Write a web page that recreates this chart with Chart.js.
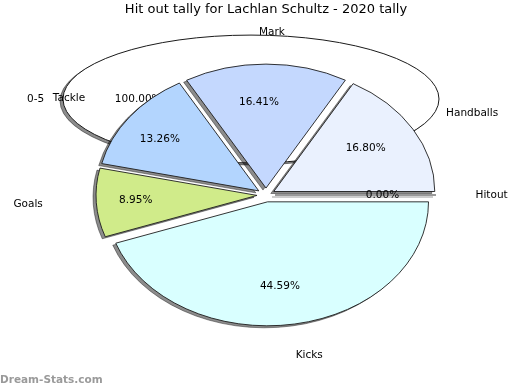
<!DOCTYPE html>
<html>
<head>
<meta charset="utf-8">
<script src="https://cdn.jsdelivr.net/npm/chart.js@4/dist/chart.umd.min.js"></script>
<style>
  body { margin: 0; background: #fff; }
  #wrap { position: relative; width: 520px; height: 390px; }
  #wrap canvas { position: absolute; left: 0; top: 0; }
</style>
</head>
<body>
<div id="wrap">
  <canvas id="backChart" width="520" height="390"></canvas>
  <canvas id="pieChart" width="520" height="390"></canvas>
</div>
<script>
const chartTitle = 'Hit out tally for Lachlan Schultz - 2020 tally';

// main pie, listed counter-clockwise from 3 o'clock
const categories = ['Handballs', 'Mark', 'Tackle', 'Goals', 'Kicks', 'Hitout'];
const shares = [16.80, 16.41, 13.26, 8.95, 44.59, 0.00];
const colors = ['#eaf1fe', '#c4d8fe', '#b3d5fe', '#d0eb8a', '#d9ffff', '#ffffff'];

// the flat ring behind it
const backCategories = ['0-5'];
const backShares = [100.00];
const backColors = ['#ffffff'];

// chart.js goes clockwise, so flip the order
const rev = a => a.slice().reverse();

// squashed, exploded pie with a drop shadow and its own labels
const ellipsePie = {
  id: 'ellipsePie',
  beforeDatasetsDraw(chart, args, o) {
    const ctx = chart.ctx;
    const arcs = chart.getDatasetMeta(0).data;

    const drawAll = () => {
      arcs.forEach(el => {
        const mid = (el.startAngle + el.endAngle) / 2;
        ctx.save();
        ctx.translate(el.x, el.y);
        ctx.scale(1, o.squash);
        ctx.translate(-el.x, -el.y);
        ctx.translate(Math.cos(mid) * o.explode, Math.sin(mid) * o.explode);
        ctx.lineWidth = 1;
        ctx.strokeStyle = o.edge;
        if (el.circumference === 0) {
          // empty slice: just its edge
          ctx.beginPath();
          ctx.moveTo(el.x, el.y);
          ctx.lineTo(el.x + el.outerRadius * Math.cos(mid), el.y + el.outerRadius * Math.sin(mid));
          ctx.stroke();
        } else {
          el.draw(ctx);
        }
        ctx.restore();

        if (el.circumference >= 2 * Math.PI - 1e-6) {
          // whole disc: outline without the radius line, unsquashed pen
          ctx.save();
          ctx.lineWidth = 1;
          ctx.strokeStyle = o.edge;
          ctx.beginPath();
          ctx.ellipse(el.x, el.y, el.outerRadius, el.outerRadius * o.squash, 0, 0, 2 * Math.PI);
          ctx.stroke();
          ctx.restore();
        }
      });
    };

    // shadows first, all below the wedges
    ctx.save();
    ctx.shadowColor = 'rgba(0,0,0,0.45)';
    ctx.shadowBlur = 0;
    ctx.shadowOffsetX = 4000 + o.shadowX;
    ctx.shadowOffsetY = o.shadowY;
    ctx.translate(-4000, 0);
    drawAll();
    ctx.restore();

    drawAll();
    return false;
  },
  afterDraw(chart, args, o) {
    const ctx = chart.ctx;
    const arcs = chart.getDatasetMeta(0).data;
    const values = chart.data.datasets[0].data;
    const names = chart.data.labels;

    ctx.save();
    ctx.font = '10.5px "DejaVu Sans"';
    ctx.fillStyle = '#000';
    ctx.textBaseline = 'middle';
    arcs.forEach((el, i) => {
      const mid = (el.startAngle + el.endAngle) / 2;
      const c = Math.cos(mid), s = Math.sin(mid);
      const rx = el.outerRadius, ry = el.outerRadius * o.squash;
      const cx = el.x + o.labelShift, cy = el.y;
      ctx.textAlign = 'center';
      ctx.fillText(values[i].toFixed(2) + '%', cx + o.pctX * rx * c, cy + o.pctY * ry * s);
      ctx.textAlign = c > -0.01 ? 'left' : 'right';
      ctx.fillText(names[i], cx + o.nameX * rx * c, cy + o.nameY * ry * s);
    });

    if (o.watermark) {
      ctx.font = 'bold 10.5px "DejaVu Sans"';
      ctx.fillStyle = '#9a9a9a';
      ctx.textAlign = 'left';
      ctx.fillText(o.watermark, 0, 380);
    }
    ctx.restore();
  }
};

new Chart(document.getElementById('backChart'), {
  type: 'pie',
  data: {
    labels: backCategories,
    datasets: [{
      data: backShares,
      backgroundColor: backColors,
      borderWidth: 0
    }]
  },
  options: {
    responsive: false,
    animation: false,
    events: [],
    rotation: 90,
    radius: 188,
    layout: { padding: { left: 0, right: 18, top: 0, bottom: 192 } },
    plugins: {
      legend: { display: false },
      tooltip: { enabled: false },
      ellipsePie: {
        squash: 0.34, explode: 0, shadowX: -3, shadowY: 2, edge: '#1a1a1a',
        labelShift: 0, pctX: 0.6, pctY: 0.6, nameX: 1.1, nameY: 1.1
      }
    }
  },
  plugins: [ellipsePie]
});

new Chart(document.getElementById('pieChart'), {
  type: 'pie',
  data: {
    labels: rev(categories),
    datasets: [{
      data: rev(shares),
      backgroundColor: rev(colors),
      borderColor: '#1a1a1a',
      borderWidth: 1
    }]
  },
  options: {
    responsive: false,
    animation: false,
    events: [],
    rotation: 90,
    radius: 161,
    layout: { padding: { left: 12, right: 0, top: 0, bottom: 17.6 } },
    plugins: {
      legend: { display: false },
      tooltip: { enabled: false },
      title: {
        display: true,
        text: chartTitle,
        color: '#000',
        font: { family: 'DejaVu Sans', size: 13, weight: 'normal' },
        padding: { top: 2, bottom: 0 }
      },
      ellipsePie: {
        squash: 0.77, explode: 9, shadowX: -3, shadowY: 2, edge: '#1a1a1a',
        labelShift: -7, pctX: 0.767, pctY: 0.75, nameX: 1.345, nameY: 1.31,
        watermark: 'Dream-Stats.com'
      }
    }
  },
  plugins: [ellipsePie]
});
</script>
</body>
</html>
